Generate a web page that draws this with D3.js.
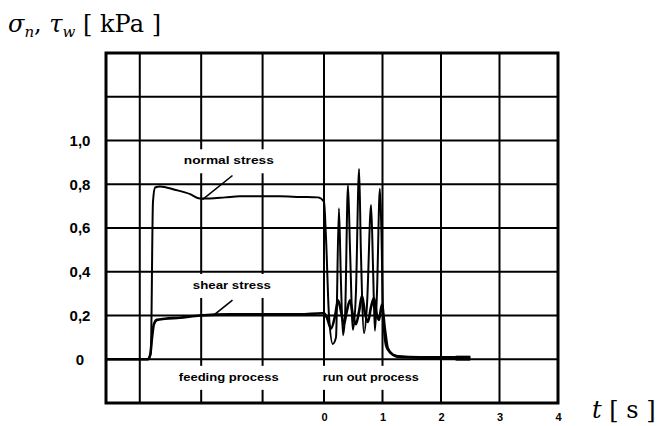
<!DOCTYPE html>
<html><head><meta charset="utf-8">
<script src="https://cdn.jsdelivr.net/npm/d3@7"></script>
<style>
body{margin:0;background:#fff;}
svg{display:block;}
</style></head>
<body><svg id="c" width="658" height="426"></svg>
<script>
// ---- data ----
const yTicks = [0, 0.2, 0.4, 0.6, 0.8, 1.0];
const yTickLabels = ["0", "0,2", "0,4", "0,6", "0,8", "1,0"];
const xTicks = [0, 1, 2, 3, 4];
const xTickLabels = ["0", "1", "2", "3", "4"];
const xGrid = [-3, -2, -1, 0, 1, 2, 3];
const yGrid = [0, 0.2, 0.4, 0.6, 0.8, 1.0, 1.2];

const normalT = [-3.55,-2.87,-2.82,-2.785,-2.75,-2.67,-2.43,-2.18,-2.02,-1.86,-1.61,-1.37,-1.04,-0.72,-0.39,-0.10,
  0.0,0.035,0.085,0.15,0.205,0.255,0.29,0.325,0.36,0.41,0.445,0.495,0.545,0.6,0.63,0.685,0.735,0.805,0.84,0.87,0.905,0.955,0.98,1.01,1.06,1.13,1.26,1.64,2.15,2.5];
const normalV = [0,0,0.03,0.72,0.785,0.79,0.775,0.755,0.735,0.735,0.74,0.745,0.745,0.745,0.742,0.74,
  0.72,0.55,0.2,0.07,0.1,0.69,0.35,0.11,0.2,0.795,0.5,0.135,0.3,0.87,0.5,0.12,0.25,0.705,0.4,0.13,0.3,0.78,0.6,0.2,0.06,0.03,0.015,0.01,0.01,0.01];

const shearT = [-3.55,-2.87,-2.83,-2.80,-2.77,-2.72,-2.59,-2.35,-2.02,-1.53,-1.04,-0.39,-0.03,
  0,0.05,0.12,0.19,0.24,0.29,0.34,0.39,0.445,0.495,0.545,0.6,0.65,0.70,0.75,0.805,0.855,0.905,0.94,0.99,1.04,1.09,1.18,1.3,1.98,2.24,2.5];
const shearV = [0,0,0.02,0.1,0.16,0.18,0.185,0.19,0.2,0.205,0.205,0.205,0.21,
  0.21,0.19,0.14,0.2,0.27,0.22,0.16,0.22,0.27,0.2,0.16,0.22,0.29,0.21,0.17,0.24,0.28,0.2,0.18,0.25,0.14,0.05,0.02,0.01,0.005,0.005,0.005];
const endMarkT = [2.25, 2.5];
const endMarkV = [0.005, 0.005];

const labels = [
  {text: "normal stress", t: -1.55, v: 0.905, w: 90},
  {text: "shear stress", t: -1.5, v: 0.335, w: 78},
  {text: "feeding process", t: -1.55, v: -0.085, w: 100},
  {text: "run out process", t: 0.8, v: -0.085, w: 96}
];
const leaders = [
  {t: [-1.49, -1.98], v: [0.84, 0.73]},
  {t: [-1.49, -1.78], v: [0.27, 0.205]}
];

// ---- scales ----
const svg = d3.select("#c");
const x = d3.scaleLinear().domain([-3.55, 0, 4]).range([106, 324, 558]);
const y = d3.scaleLinear().domain([-0.2, 1.4]).range([403, 53]);

// vertical grid
svg.append("g").selectAll("line").data(xGrid).join("line")
  .attr("x1", d => x(d)).attr("x2", d => x(d))
  .attr("y1", y(1.4)).attr("y2", y(-0.2))
  .attr("stroke", "#000").attr("stroke-width", 2);

// label masks + labels
const lg = svg.append("g");
labels.forEach(l => {
  const g = lg.append("g");
  const r = g.append("rect").attr("fill", "#fff");
  g.append("text").attr("x", x(l.t)).attr("y", y(l.v))
    .attr("text-anchor", "middle").attr("dominant-baseline", "middle")
    .attr("font-family", "Liberation Sans, Arial, sans-serif").attr("font-weight", "bold")
    .attr("font-size", 11).attr("textLength", l.w).attr("lengthAdjust", "spacingAndGlyphs")
    .text(l.text);
  r.attr("x", x(l.t) - l.w / 2 - 6).attr("width", l.w + 12)
   .attr("y", y(l.v) - 12).attr("height", 24);
});

// horizontal grid
svg.append("g").selectAll("line").data(yGrid).join("line")
  .attr("x1", x(-3.55)).attr("x2", x(4))
  .attr("y1", d => y(d)).attr("y2", d => y(d))
  .attr("stroke", "#000").attr("stroke-width", 2);

// frame
svg.append("rect").attr("x", x(-3.55)).attr("y", y(1.4))
  .attr("width", x(4) - x(-3.55)).attr("height", y(-0.2) - y(1.4))
  .attr("fill", "none").attr("stroke", "#000").attr("stroke-width", 3);

// leaders
const leaderLine = d3.line().x(d => x(d[0])).y(d => y(d[1]));
leaders.forEach(l => {
  svg.append("path").attr("d", leaderLine(d3.zip(l.t, l.v)))
    .attr("fill", "none").attr("stroke", "#000").attr("stroke-width", 1.6);
});

// curves
const line = d3.line().x(d => x(d[0])).y(d => y(d[1])).curve(d3.curveMonotoneX);
svg.append("path").attr("d", line(d3.zip(shearT, shearV)))
  .attr("fill", "none").attr("stroke", "#000").attr("stroke-width", 2.6).attr("stroke-linejoin", "round");
svg.append("path").attr("d", line(d3.zip(normalT, normalV)))
  .attr("fill", "none").attr("stroke", "#000").attr("stroke-width", 2).attr("stroke-linejoin", "round");
svg.append("path").attr("d", d3.line().x(d => x(d[0])).y(d => y(d[1]))(d3.zip(endMarkT, endMarkV)))
  .attr("fill", "none").attr("stroke", "#000").attr("stroke-width", 5);

// axes (labels only)
const yAxis = d3.axisLeft(y).tickValues(yTicks).tickSize(0)
  .tickFormat((d, i) => yTickLabels[i]);
const gy = svg.append("g").attr("transform", "translate(80,0)").call(yAxis);
gy.select(".domain").remove();
gy.selectAll("text").attr("x", 0).attr("text-anchor", "middle")
  .attr("font-family", "Liberation Sans, Arial, sans-serif").attr("font-weight", "bold")
  .attr("font-size", 15).attr("fill", "#000");

const xAxis = d3.axisBottom(x).tickValues(xTicks).tickSize(0)
  .tickFormat((d, i) => xTickLabels[i]);
const gx = svg.append("g").attr("transform", "translate(0,410)").call(xAxis);
gx.select(".domain").remove();
gx.selectAll("text").attr("font-family", "Liberation Sans, Arial, sans-serif")
  .attr("font-weight", "bold").attr("font-size", 11).attr("fill", "#000");

// axis titles
const yt = svg.append("text").attr("x", 8).attr("y", 32)
  .attr("font-family", "DejaVu Serif, serif").attr("font-size", 24).attr("fill", "#000");
yt.append("tspan").attr("font-style", "italic").text("σ");
yt.append("tspan").attr("font-style", "italic").attr("font-size", 15).attr("dy", 5).text("n");
yt.append("tspan").attr("dy", -5).text(", ");
yt.append("tspan").attr("font-style", "italic").text("τ");
yt.append("tspan").attr("font-style", "italic").attr("font-size", 15).attr("dy", 5).text("w");
yt.append("tspan").attr("dy", -5).text(" [ kPa ]");

const xt = svg.append("text").attr("x", 592).attr("y", 418)
  .attr("font-family", "DejaVu Serif, serif").attr("font-size", 24).attr("fill", "#000");
xt.append("tspan").attr("font-style", "italic").text("t");
xt.append("tspan").text(" [ s ]");
</script></body></html>
